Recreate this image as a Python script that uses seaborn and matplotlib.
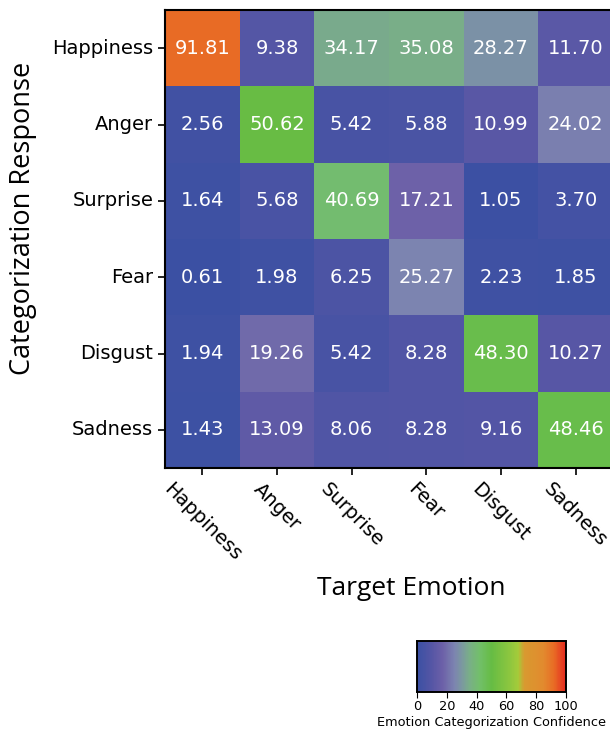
import matplotlib
matplotlib.use("Agg")

import matplotlib.pyplot as plt
import seaborn as sns
import numpy as np
import pandas as pd
from matplotlib.colors import LinearSegmentedColormap

# rows = categorization response, columns = target emotion
emotions = ["Happiness", "Anger", "Surprise", "Fear", "Disgust", "Sadness"]
happiness = [91.81, 9.38, 34.17, 35.08, 28.27, 11.70]
anger = [2.56, 50.62, 5.42, 5.88, 10.99, 24.02]
surprise = [1.64, 5.68, 40.69, 17.21, 1.05, 3.70]
fear = [0.61, 1.98, 6.25, 25.27, 2.23, 1.85]
disgust = [1.94, 19.26, 5.42, 8.28, 48.30, 10.27]
sadness = [1.43, 13.09, 8.06, 8.28, 9.16, 48.46]

df = pd.DataFrame([happiness, anger, surprise, fear, disgust, sadness],
                  index=emotions, columns=emotions)

# blue -> lavender grey -> green -> yellow-green -> orange -> red
cmap = LinearSegmentedColormap.from_list("emo", [
    (0.00, "#3a50a3"),
    (0.10, "#5656a5"),
    (0.17, "#6c60a8"),
    (0.25, "#7c84b0"),
    (0.30, "#7b98a0"),
    (0.35, "#79ae88"),
    (0.42, "#72bf6a"),
    (0.50, "#66bc44"),
    (0.62, "#8cc63f"),
    (0.68, "#a5cb3a"),
    (0.72, "#d89a30"),
    (0.85, "#e28a2e"),
    (0.92, "#e86c25"),
    (1.00, "#e52a20"),
])

fig = plt.figure(figsize=(6.1, 7.35), dpi=100)
ax = fig.add_axes([165 / 610, 1 - 468 / 735, 448 / 610, 458 / 735])
cax = fig.add_axes([417 / 610, 1 - 692 / 735, 149 / 610, 51 / 735])

sns.heatmap(df, ax=ax, cmap=cmap, vmin=0, vmax=100, annot=True, fmt=".2f",
            annot_kws={"color": "white", "fontsize": 14},
            cbar_ax=cax, cbar_kws={"orientation": "horizontal", "ticks": [0, 20, 40, 60, 80, 100]})

for s in ax.spines.values():
    s.set_visible(True)
    s.set_color("black")
    s.set_linewidth(1.5)

ax.tick_params(axis="both", labelsize=14, length=5, width=1.2)
plt.setp(ax.get_xticklabels(), rotation=-45, ha="center")
plt.setp(ax.get_yticklabels(), rotation=0)

ax.set_xlabel("Target Emotion", fontsize=19, family="Open Sans")
ax.set_ylabel("Categorization Response", fontsize=19.5, family="Open Sans")
ax.xaxis.set_label_coords(0.55, -0.235)
ax.yaxis.set_label_coords(-0.285, 0.544)

cax.tick_params(labelsize=9.3, length=4, pad=2)
cax.set_xlabel("Emotion Categorization Confidence", fontsize=9.3, labelpad=2)
for s in cax.spines.values():
    s.set_visible(True)
    s.set_linewidth(1.2)

fig.savefig("out.png", dpi=100)
plt.close(fig)
